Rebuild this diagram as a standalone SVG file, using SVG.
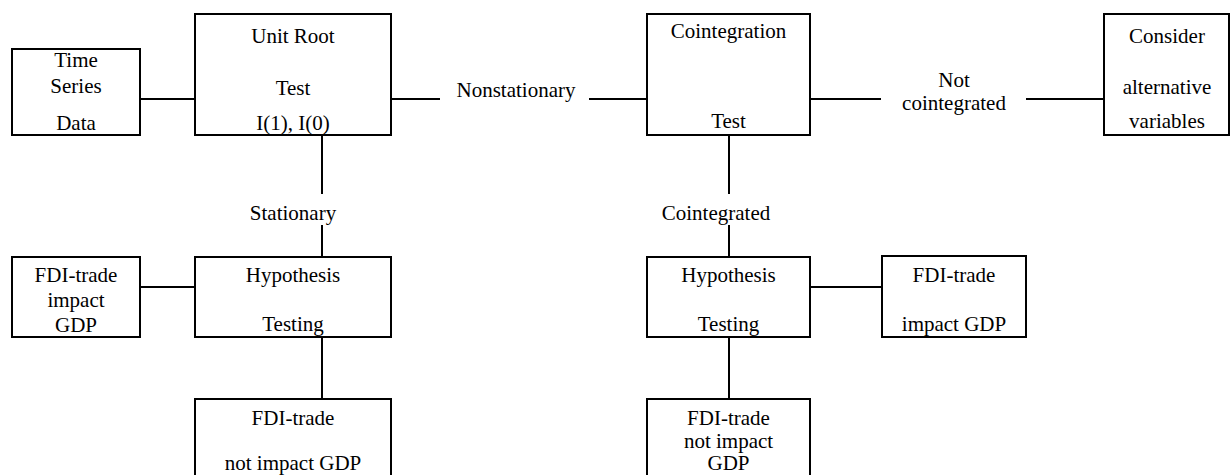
<svg xmlns="http://www.w3.org/2000/svg" width="1230" height="475" viewBox="0 0 1230 475">
<style>
.box{fill:#fff;stroke:#000;stroke-width:2}
.c{fill:none;stroke:#000;stroke-width:2}
text{font-family:"Liberation Serif","Times New Roman",serif;font-size:21px;fill:#000;text-anchor:middle}
</style>
<rect width="1230" height="475" fill="#fff"/>
<g id="connectors">
<line class="c" x1="140" y1="99" x2="195" y2="99"/>
<line class="c" x1="391" y1="99" x2="440" y2="99"/>
<line class="c" x1="589" y1="99" x2="647" y2="99"/>
<line class="c" x1="810" y1="99" x2="881" y2="99"/>
<line class="c" x1="1026" y1="99" x2="1104" y2="99"/>
<line class="c" x1="322" y1="135" x2="322" y2="194"/>
<line class="c" x1="322" y1="225" x2="322" y2="257"/>
<line class="c" x1="729" y1="135" x2="729" y2="194"/>
<line class="c" x1="729" y1="225" x2="729" y2="257"/>
<line class="c" x1="140" y1="287" x2="195" y2="287"/>
<line class="c" x1="810" y1="287" x2="882" y2="287"/>
<line class="c" x1="322" y1="337" x2="322" y2="399"/>
<line class="c" x1="729" y1="337" x2="729" y2="399"/>
<text x="516" y="97">Nonstationary</text>
<text x="954" y="87">Not</text>
<text x="954" y="110">cointegrated</text>
<text x="293" y="220">Stationary</text>
<text x="716" y="220">Cointegrated</text>
</g>
<g id="time-series">
<rect class="box" x="12" y="49" width="128" height="86"/>
<text x="76" y="67">Time</text>
<text x="76" y="93">Series</text>
<text x="76" y="130">Data</text>
</g>
<g id="unit-root">
<rect class="box" x="195" y="14" width="196" height="121"/>
<text x="293" y="43">Unit Root</text>
<text x="293" y="95">Test</text>
<text x="293" y="130">I(1), I(0)</text>
</g>
<g id="cointegration">
<rect class="box" x="647" y="14" width="163" height="121"/>
<text x="728.5" y="38">Cointegration</text>
<text x="728.5" y="128">Test</text>
</g>
<g id="consider">
<rect class="box" x="1104" y="14" width="125" height="121"/>
<text x="1167" y="43">Consider</text>
<text x="1167" y="94">alternative</text>
<text x="1167" y="128">variables</text>
</g>
<g id="fdi-impact-left">
<rect class="box" x="12" y="257" width="128" height="80"/>
<text x="76" y="282">FDI-trade</text>
<text x="76" y="307">impact</text>
<text x="76" y="332">GDP</text>
</g>
<g id="hypothesis-left">
<rect class="box" x="195" y="257" width="196" height="80"/>
<text x="293" y="282">Hypothesis</text>
<text x="293" y="331">Testing</text>
</g>
<g id="hypothesis-right">
<rect class="box" x="647" y="257" width="163" height="80"/>
<text x="728.5" y="282">Hypothesis</text>
<text x="728.5" y="331">Testing</text>
</g>
<g id="fdi-impact-right">
<rect class="box" x="882" y="256" width="144" height="81"/>
<text x="954" y="282">FDI-trade</text>
<text x="954" y="331">impact GDP</text>
</g>
<g id="fdi-not-impact-left">
<rect class="box" x="195" y="399" width="196" height="90"/>
<text x="293" y="425">FDI-trade</text>
<text x="293" y="470">not impact GDP</text>
</g>
<g id="fdi-not-impact-right">
<rect class="box" x="647" y="399" width="163" height="90"/>
<text x="728.5" y="425">FDI-trade</text>
<text x="728.5" y="448">not impact</text>
<text x="728.5" y="470">GDP</text>
</g>
</svg>
